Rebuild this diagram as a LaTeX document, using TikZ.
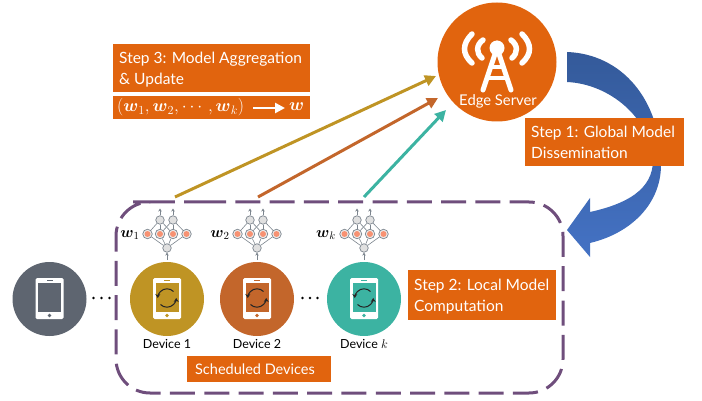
\documentclass[tikz,border=0pt]{standalone}
\usepackage{fix-cm}
\usepackage{amsmath}
\usepackage{fontspec}
\setmainfont{Lato}
\usetikzlibrary{arrows.meta,calc}
\definecolor{boxor}{HTML}{E1640E}
\definecolor{ygold}{HTML}{BF9424}
\definecolor{dorange}{HTML}{C3662B}
\definecolor{teal2}{HTML}{3CB3A2}
\definecolor{slate}{HTML}{5E6570}
\definecolor{purp}{HTML}{6F4E7C}
\definecolor{netline}{HTML}{7C858E}
\definecolor{netgray}{HTML}{E0E0E0}
\definecolor{netred}{HTML}{F79273}
\definecolor{blueA}{HTML}{345A9A}
\definecolor{blueB}{HTML}{3860A5}
\definecolor{blueC}{HTML}{4472C4}
\tikzset{
  stepbox/.style={fill=boxor,text=white,inner sep=0pt},
  steptext/.style={text=white,font=\fontsize{15.5}{21}\selectfont,anchor=west,align=left,inner sep=0pt},
  mathtext/.style={text=white,font=\fontsize{17.5}{20}\selectfont,anchor=west,inner sep=0pt},
  devlabel/.style={font=\fontsize{12.5}{15}\selectfont,text=black},
  wlabel/.style={font=\fontsize{15.5}{17}\selectfont,inner sep=0pt},
  flow/.style={line width=3pt,-{Triangle[length=11pt,width=11pt]}},
  nethid/.style={circle,draw=netline,line width=.7pt,fill=netgray,minimum size=8.5pt,inner sep=0pt},
  netmid/.style={circle,draw=netline,line width=.7pt,fill=netgray!60,minimum size=9.5pt,inner sep=0pt,
    path picture={\fill[netred] (path picture bounding box.center) circle (3pt);}},
  netedge/.style={draw=netline,line width=.6pt},
  netarrow/.style={draw=netline,line width=.6pt,-{Stealth[length=3pt,width=3.5pt]}},
  syncarc/.style={draw=black!85,line width=1pt,-{Stealth[length=4pt,width=5pt]}},
  mast/.style={draw=white,line width=5pt,line cap=round},
  wave/.style={draw=white,line width=5.5pt,line cap=round}
}
\newcommand{\myphone}[4]{% name, x, y, colour
  \node[circle,fill=#4,minimum size=74pt,inner sep=0pt] (#1) at (#2,#3) {};
  \fill[white,rounded corners=1.5pt] (#2-14,#3-21) rectangle (#2+14,#3+20);
  \fill[#4] (#2-11.5,#3-16) rectangle (#2+11.5,#3+13);
  \fill[#4] (#2-3,#3-19.3) rectangle (#2+3,#3-17.8);
  \fill[#4] (#2,#3+16.5) circle (1.9pt);
}
\newcommand{\mysync}[2]{%
  \draw[syncarc] (#1+6.5,#2-6.5) arc[start angle=-45,delta angle=-135,radius=9.2];
  \draw[syncarc] (#1-6.5,#2+6.5) arc[start angle=135,delta angle=-135,radius=9.2];
}
\newcommand{\mynet}[2]{% prefix, x
  \node[nethid] (#1b) at (#2,248) {};
  \node[netmid] (#1m1) at (#2-19.5,234) {};
  \node[netmid] (#1m2) at (#2-7,234) {};
  \node[netmid] (#1m3) at (#2+6,234) {};
  \node[netmid] (#1m4) at (#2+19.5,234) {};
  \node[nethid] (#1t1) at (#2-7,220) {};
  \node[nethid] (#1t2) at (#2+6,220) {};
  \foreach \m in {1,2,3,4} \draw[netedge] (#1b) -- (#1m\m);
  \draw[netedge] (#1t1) -- (#1m1);
  \draw[netedge] (#1t1) -- (#1m2);
  \draw[netedge] (#1t1) -- (#1m3);
  \draw[netedge] (#1t2) -- (#1m2);
  \draw[netedge] (#1t2) -- (#1m3);
  \draw[netedge] (#1t2) -- (#1m4);
  \coordinate (#1a1) at (#2-7,208.5);
  \coordinate (#1a2) at (#2+6,208.5);
  \coordinate (#1a4) at (#2,260);
  \draw[netarrow] (#1t1) -- (#1a1);
  \draw[netarrow] (#1t2) -- (#1a2);
  \draw[netarrow] (#1a4) -- (#1b);
}
\begin{document}
\begin{tikzpicture}[x=1pt,y=-1pt]
\useasboundingbox (0,0) rectangle (702,401);
% dashed box
\draw[purp,line width=3pt,dash pattern=on 25pt off 9.3pt,rounded corners=34pt] (167,202) -- (563,202) -- (563,393) -- (116,393) -- (116,202) -- cycle;
% blue curved arrow
\path[top color=blueA,middle color=blueB,bottom color=blueC]
  (567,52) .. controls (622,54) and (661,100) .. (661,165)
  .. controls (661,203) and (632,233) .. (590,243)
  -- (590,257) -- (567,230) -- (590,198) -- (590,212)
  .. controls (626,204) and (653,190) .. (653,160)
  .. controls (650,118) and (610,84) .. (567,82) -- cycle;
% server
\node[circle,fill=boxor,minimum size=119pt,inner sep=0pt] (server) at (497,62) {};
\coordinate (top) at (497,48);
\coordinate (legl) at (483,90);
\coordinate (legr) at (511,90);
\coordinate (barla) at (491,67); \coordinate (barra) at (503,67);
\coordinate (barlb) at (487.5,78); \coordinate (barrb) at (506.5,78);
\draw[mast] (legl) -- (top) -- (legr);
\draw[mast,line width=3.5pt,line cap=butt] (barla) -- (barra);
\draw[mast,line width=3.5pt,line cap=butt] (barlb) -- (barrb);
\fill[white] (top) circle (7.5pt);
\draw[wave] (483,40) .. controls (476,45) and (476,53) .. (482,58);
\draw[wave] (511,40) .. controls (518,45) and (518,53) .. (512,58);
\draw[wave] (472,34) .. controls (462,44) and (462,54) .. (472,63);
\draw[wave] (522,34) .. controls (532,44) and (532,54) .. (522,63);
\node[text=white,font=\fontsize{14.8}{16}\selectfont] (srvlabel) at (498,101.5) {Edge Server};
% step 1
\node[stepbox,minimum width=159pt,minimum height=48pt,anchor=north west] (s1) at (525,118) {};
\node[steptext] (s1t) at (531,142) {Step 1: Global Model\\Dissemination};
% step 3
\node[stepbox,minimum width=197pt,minimum height=48pt,anchor=north west] (s3) at (113,44) {};
\node[steptext] (s3t) at (119,70) {Step 3: Model Aggregation\\\&{} Update};
\node[stepbox,minimum width=197pt,minimum height=23pt,anchor=north west] (s3b) at (113,96) {};
\node[mathtext] (s3f) at (117,107.5) {$(\boldsymbol{w}_1,\boldsymbol{w}_2,\cdots,\boldsymbol{w}_k)$};
\node[mathtext] (s3w) at (289,107) {$\boldsymbol{w}$};
\coordinate (farrl) at (253,108);
\coordinate (farrr) at (285,108);
\draw[white,line width=2.5pt,-{Triangle[length=10pt,width=10pt]}] (farrl) -- (farrr);
% step 2
\node[stepbox,minimum width=148pt,minimum height=50pt,anchor=north west] (s2) at (408,270) {};
\node[steptext] (s2t) at (414,297) {Step 2: Local Model\\Computation};
% scheduled
\node[stepbox,minimum width=144pt,minimum height=26pt,anchor=north west] (sd) at (187,356) {};
\node[text=white,font=\fontsize{14.5}{16}\selectfont,inner sep=0pt] (sdt) at (255,369.5) {Scheduled Devices};
% devices
\myphone{dev0}{49.5}{299}{slate}
\myphone{dev1}{167}{299}{ygold}\mysync{167}{298}
\myphone{dev2}{257}{299}{dorange}\mysync{257}{298}
\myphone{dev3}{364}{299}{teal2}\mysync{364}{298}
\node[devlabel] (l1) at (167,344) {Device 1};
\node[devlabel] (l2) at (257,344) {Device 2};
\node[devlabel] (l3) at (364,344) {Device $k$};
% nets
\mynet{na}{167}
\mynet{nb}{257}
\mynet{nc}{364}
\node[wlabel] (w1) at (130,235) {$\boldsymbol{w}_1$};
\node[wlabel] (w2) at (220,235) {$\boldsymbol{w}_2$};
\node[wlabel] (w3) at (326,235) {$\boldsymbol{w}_k$};
% dots
\foreach \x in {93.5,101.5,109.5} \fill (\x,298) circle (1.4pt);
\foreach \x in {302.5,310,317.5} \fill (\x,298) circle (1.4pt);
% flows
\coordinate (y0) at (175,197); \coordinate (y1) at (436,76);
\coordinate (o0) at (258,197); \coordinate (o1) at (438,98);
\coordinate (t0) at (364,197); \coordinate (t1) at (446,110);
\draw[flow,ygold] (y0) -- (y1);
\draw[flow,dorange] (o0) -- (o1);
\draw[flow,teal2] (t0) -- (t1);
\end{tikzpicture}
\end{document}
